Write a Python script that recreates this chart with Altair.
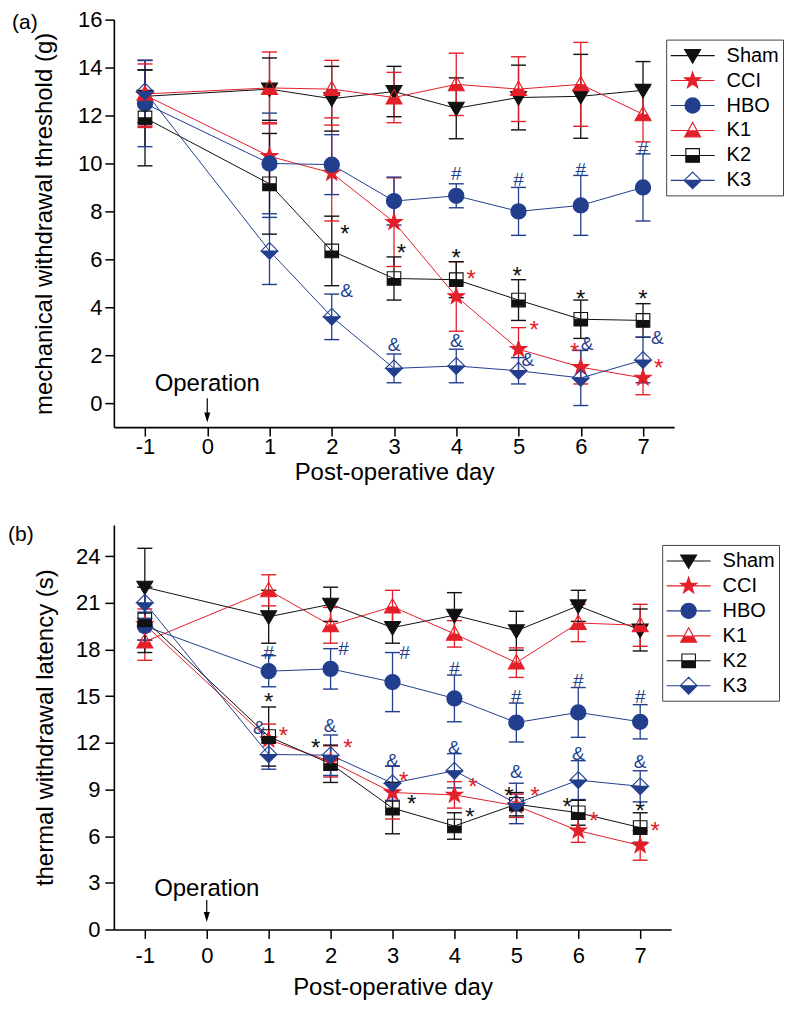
import math
import altair as alt
import pandas as pd

# ---------------- data ----------------
days = [-1, 1, 2, 3, 4, 5, 6, 7]
groups = ["Sham", "CCI", "HBO", "K1", "K2", "K3"]
colors = ["#111111", "#e3202a", "#223f8e", "#e3202a", "#111111", "#223f8e"]

# panel (a): mechanical withdrawal threshold (g)
a_mean = {
    "Sham": [12.8, 13.1, 12.7, 13.0, 12.3, 12.75, 12.8, 13.05],
    "CCI":  [12.85, 10.3, 9.6, 7.55, 4.45, 2.25, 1.5, 1.05],
    "HBO":  [12.5, 10.0, 9.95, 8.43, 8.65, 8.0, 8.25, 9.0],
    "K1":   [12.9, 13.15, 13.1, 12.75, 13.3, 13.1, 13.3, 12.05],
    "K2":   [11.9, 9.15, 6.35, 5.2, 5.15, 4.3, 3.5, 3.45],
    "K3":   [13.0, 6.35, 3.6, 1.45, 1.55, 1.35, 1.05, 1.8],
}
a_sd = {
    "Sham": [1.1, 1.3, 1.35, 1.05, 1.27, 1.35, 1.75, 1.2],
    "CCI":  [1.3, 1.4, 2.0, 1.85, 1.45, 0.9, 0.7, 0.7],
    "HBO":  [1.8, 2.1, 1.25, 1.0, 0.5, 1.0, 1.25, 1.4],
    "K1":   [1.4, 1.5, 1.2, 1.05, 1.3, 1.35, 1.75, 1.15],
    "K2":   [2.0, 2.1, 1.45, 0.9, 0.75, 0.85, 0.8, 0.7],
    "K3":   [1.3, 1.4, 0.95, 0.6, 0.7, 0.55, 1.15, 0.95],
}

# panel (b): thermal withdrawal latency (s)
b_mean = {
    "Sham": [22.0, 20.1, 20.9, 19.4, 20.2, 19.2, 20.8, 19.25],
    "CCI":  [19.6, 12.2, 10.8, 8.8, 8.65, 7.95, 6.35, 5.4],
    "HBO":  [19.5, 16.6, 16.75, 15.9, 14.85, 13.3, 13.95, 13.35],
    "K1":   [18.5, 21.8, 19.55, 20.75, 19.0, 17.15, 19.7, 19.55],
    "K2":   [19.9, 12.4, 10.65, 7.8, 6.65, 8.05, 7.5, 6.55],
    "K3":   [21.0, 11.25, 11.2, 9.4, 10.2, 8.1, 9.6, 9.2],
}
b_sd = {
    "Sham": [2.5, 1.7, 1.1, 1.0, 1.45, 1.25, 1.0, 1.35],
    "CCI":  [1.0, 1.0, 1.0, 1.7, 0.85, 0.75, 0.75, 0.95],
    "HBO":  [0.9, 1.0, 1.3, 1.9, 1.5, 1.25, 1.6, 1.1],
    "K1":   [1.2, 1.0, 1.15, 1.05, 0.85, 0.95, 1.2, 1.35],
    "K2":   [2.1, 1.9, 1.2, 1.65, 0.85, 0.75, 0.8, 0.95],
    "K3":   [1.0, 0.95, 1.3, 1.1, 1.1, 1.3, 1.25, 1.0],
}

# significance marks: (day position, value, symbol, colour key)
a_marks = [
    (2.21, 7.3, "*", "k"), (2.24, 4.73, "&", "b"),
    (3.12, 6.5, "*", "k"), (3.0, 2.47, "&", "b"),
    (4.0, 6.3, "*", "k"), (4.24, 5.4, "*", "r"), (4.0, 2.63, "&", "b"), (4.0, 9.6, "#", "b"),
    (4.98, 5.55, "*", "k"), (5.25, 3.3, "*", "r"), (5.15, 1.85, "&", "b"), (5.0, 9.34, "#", "b"),
    (6.0, 4.57, "*", "k"), (5.9, 2.35, "*", "r"), (6.1, 2.5, "&", "b"), (6.0, 9.75, "#", "b"),
    (7.0, 4.57, "*", "k"), (7.23, 2.76, "&", "b"), (7.25, 1.69, "*", "r"), (7.0, 10.65, "#", "b"),
]
b_marks = [
    (1.0, 17.84, "#", "b"), (1.0, 15.0, "*", "k"), (0.85, 13.0, "&", "b"), (1.24, 12.76, "*", "r"),
    (2.21, 18.1, "#", "b"), (1.99, 13.14, "&", "b"), (1.76, 12.0, "*", "k"), (2.28, 12.0, "*", "r"),
    (3.2, 17.84, "#", "b"), (3.0, 10.86, "&", "b"), (3.18, 9.9, "*", "r"), (3.31, 8.44, "*", "k"),
    (4.0, 16.8, "#", "b"), (4.0, 11.75, "&", "b"), (4.3, 9.5, "*", "r"), (4.25, 7.6, "*", "k"),
    (5.0, 15.0, "#", "b"), (5.0, 10.16, "&", "b"), (4.88, 8.9, "*", "k"), (5.3, 8.95, "*", "r"),
    (6.0, 16.06, "#", "b"), (6.0, 11.37, "&", "b"), (5.82, 8.2, "*", "k"), (6.25, 7.3, "*", "r"),
    (7.0, 15.0, "#", "b"), (7.0, 10.8, "&", "b"), (7.0, 7.94, "*", "k"), (7.24, 6.67, "*", "r"),
]
mark_colors = {"k": "#111111", "r": "#e3202a", "b": "#223f8e"}

x_ticks = [-1, 0, 1, 2, 3, 4, 5, 6, 7]
a_y_ticks = [0, 2, 4, 6, 8, 10, 12, 14, 16]
b_y_ticks = [0, 3, 6, 9, 12, 15, 18, 21, 24]

# "Operation" annotation: text value, arrow start, arrow end, arrow head
a_op = (0.78, 0.2, -0.5, -0.6)
b_op = (2.6, 1.9, 1.0, 0.8)

FONT = "Liberation Sans"


# ---------------- marker shapes (SVG paths in unit box) ----------------
def poly(pts, k=1.0):
    return "M" + "L".join(f"{x * k:.4f},{y * k:.4f}" for x, y in pts) + "Z"


def circ(r):
    return f"M{-r:.4f},0A{r:.4f},{r:.4f} 0 1,0 {r:.4f},0A{r:.4f},{r:.4f} 0 1,0 {-r:.4f},0Z"


star_pts = [
    ((1.08 if i % 2 == 0 else 0.43) * math.cos(math.radians(-90 + 36 * i)),
     (1.08 if i % 2 == 0 else 0.43) * math.sin(math.radians(-90 + 36 * i)))
    for i in range(10)
]


def shapes(k):
    tri_down = poly([(-1, -0.75), (1, -0.75), (0, 0.95)], k)
    star = poly(star_pts, k)
    circle = circ(0.95 * k)
    tri_up = poly([(0, -1), (1, 0.8), (-1, 0.8)], k) + poly([(0, -1), (-0.583, 0.05), (0.583, 0.05)], k)
    sq = poly([(-.85, -.85), (.85, -.85), (.85, .85), (-.85, .85)], k) + \
        poly([(-.85, -.85), (-.85, 0), (.85, 0), (.85, -.85)], k)
    dia = poly([(0, -1.05), (1.05, 0), (0, 1.05), (-1.05, 0)], k) + \
        poly([(0, -1.05), (-1.05, 0), (1.05, 0)], k)
    return [tri_down, star, circle, tri_up, sq, dia]


marker_shapes = shapes(1.0)

# legend symbols: unit = 11 px, marker half-width 8 px, line half-length 22 px
LEG_SIZE = 484
k = 8 / 11.0
L = 22 / 11.0
full = f"M{-L:.4f},0H{L:.4f}"


def gap(a):
    return f"M{-L:.4f},0H{-a:.4f}M{a:.4f},0H{L:.4f}"


ls = shapes(k)
legend_shapes = [full + ls[0], full + ls[1], full + ls[2],
                 gap(0.556 * k) + ls[3], gap(0.85 * k) + ls[4], gap(1.05 * k) + ls[5]]


# ---------------- chart building ----------------
def build(means, sds, marks, yticks, ydom, ytitle, op, label, label_x, label_y, w, h,
          x_lp, x_tp, y_lp, y_tp, leg_x):
    rows = []
    for g in groups:
        for d, m, s in zip(days, means[g], sds[g]):
            rows.append({"group": g, "day": d, "mean": m, "lo": m - s, "hi": m + s})
    df = pd.DataFrame(rows)
    caps = pd.concat([
        df[["group", "day"]].assign(val=df["lo"]),
        df[["group", "day"]].assign(val=df["hi"]),
    ])
    mk = pd.DataFrame([{"day": d, "v": v, "t": t, "c": mark_colors[c]} for d, v, t, c in marks])

    xs = alt.Scale(domain=[-1.5, 7.5], nice=False, zero=False)
    ys = alt.Scale(domain=ydom, nice=False, zero=False)
    xax = alt.Axis(values=x_ticks, title="Post-operative day", format="d",
                   labelExpr="replace(datum.label, '\u2212', '-')",
                   labelPadding=x_lp, titlePadding=x_tp)
    yax = alt.Axis(values=yticks, title=ytitle, format="d", labelPadding=y_lp, titlePadding=y_tp)

    def X(f="day:Q"):
        return alt.X(f, scale=xs, axis=xax)

    def Y(f):
        return alt.Y(f, scale=ys, axis=yax)

    cs = alt.Scale(domain=groups, range=colors)

    line = alt.Chart(df).mark_line(strokeWidth=1).encode(
        x=X(), y=Y("mean:Q"),
        color=alt.Color("group:N", scale=cs, legend=None), detail="group:N")
    err = alt.Chart(df).mark_rule(strokeWidth=1.3).encode(
        x=X(), y=Y("lo:Q"), y2="hi:Q",
        color=alt.Color("group:N", scale=cs, legend=None))
    cap = alt.Chart(caps).mark_tick(orient="horizontal", size=15, thickness=1.4, opacity=1).encode(
        x=X(), y=Y("val:Q"),
        color=alt.Color("group:N", scale=cs, legend=None))
    pts = alt.Chart(df).mark_point(filled=True, size=256, strokeWidth=1.1, opacity=1).encode(
        x=X(), y=Y("mean:Q"),
        color=alt.Color("group:N", scale=cs, legend=None),
        stroke=alt.Stroke("group:N", scale=cs, legend=None),
        shape=alt.Shape("group:N", scale=alt.Scale(domain=groups, range=marker_shapes), legend=None))

    lg = alt.Legend(title=None, orient="none", legendX=leg_x, legendY=20,
                    symbolSize=LEG_SIZE, symbolStrokeWidth=1.1, symbolOffset=10.5,
                    labelFontSize=20, labelFont=FONT, labelColor="black", labelOffset=22,
                    rowPadding=3, padding=4, strokeColor="#444444",
                    fillColor="white")
    leg = alt.Chart(df).transform_filter("false").mark_point(filled=True, opacity=1).encode(
        x=X(), y=Y("mean:Q"),
        color=alt.Color("group:N", scale=cs, legend=lg),
        stroke=alt.Stroke("group:N", scale=cs, legend=lg),
        shape=alt.Shape("group:N", scale=alt.Scale(domain=groups, range=legend_shapes), legend=lg))

    stars = alt.Chart(mk).transform_filter("datum.t == '*'").mark_text(
        fontSize=24, font=FONT, dy=6.5).encode(
        x=X(), y=Y("v:Q"), text="t:N", color=alt.Color("c:N", scale=None))
    others = alt.Chart(mk).transform_filter("datum.t != '*'").mark_text(
        fontSize=19, font=FONT, dy=1).encode(
        x=X(), y=Y("v:Q"), text="t:N", color=alt.Color("c:N", scale=None))

    opdf = pd.DataFrame([{"day": 0, "v": op[0], "a1": op[1], "a2": op[2], "hd": op[3], "t": "Operation"}])
    optext = alt.Chart(opdf).mark_text(fontSize=24, font=FONT, color="black").encode(
        x=X(), y=Y("v:Q"), text="t:N")
    oprule = alt.Chart(opdf).mark_rule(strokeWidth=1.2, color="black").encode(
        x=X(), y=Y("a1:Q"), y2="a2:Q")
    ophead = alt.Chart(opdf).mark_point(
        shape="M-0.6,-1L0.6,-1L0,1Z", size=100, filled=True, color="black", opacity=1).encode(
        x=X(), y=Y("hd:Q"))

    lab = alt.Chart(pd.DataFrame([{"t": label}])).mark_text(
        align="left", baseline="middle", fontSize=21, font=FONT, color="black").encode(
        x=alt.value(label_x), y=alt.value(label_y), text="t:N")

    return alt.layer(line, err, cap, pts, leg, stars, others, optext, oprule, ophead, lab).resolve_scale(
        color="independent", stroke="independent", shape="independent"
    ).properties(width=w, height=h)


pa = build(a_mean, a_sd, a_marks, a_y_ticks, [-1, 16], "mechanical withdrawal threshold (g)",
           a_op, "(a)", -102, 3, 561, 408, x_lp=0, x_tp=3, y_lp=3, y_tp=21, leg_x=553)
pb = build(b_mean, b_sd, b_marks, b_y_ticks, [0, 26], "thermal withdrawal latency (s)",
           b_op, "(b)", -106, 10, 558, 405, x_lp=7, x_tp=9, y_lp=5, y_tp=18, leg_x=549)

chart = alt.vconcat(pa, pb, spacing=40, padding=0).configure(font=FONT).configure_view(
    stroke=None).configure_axis(
    grid=False, domainColor="black", domainWidth=1.6, tickColor="black", tickWidth=1.5,
    tickSize=9, labelFontSize=22, labelColor="black", labelFont=FONT,
    titleFontSize=24, titleFont=FONT, titleFontWeight="normal", titleColor="black",
    labelFlush=False,
)

chart.save("out.html", embed_options={"renderer": "svg", "actions": False})
